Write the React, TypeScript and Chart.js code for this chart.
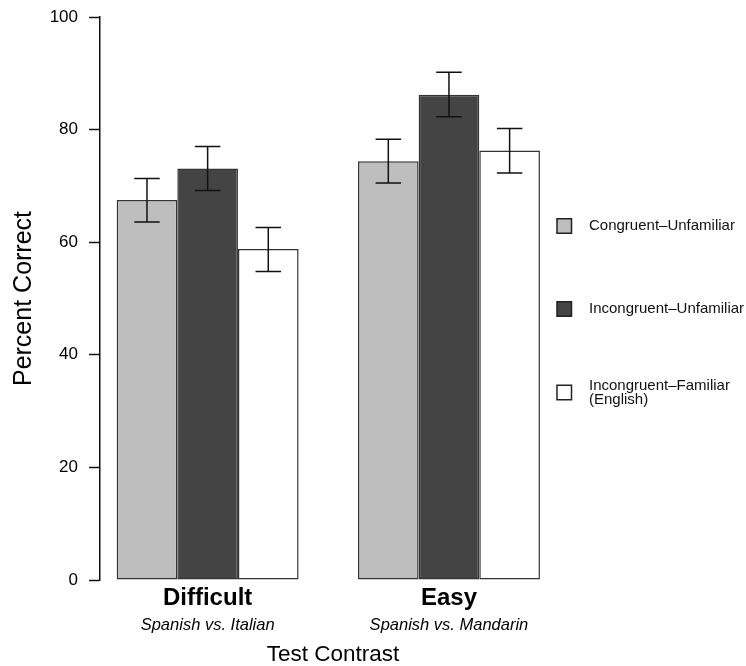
import React, { useEffect, useRef } from "react";
import { Chart, registerables } from "chart.js";

Chart.register(...registerables);

const categories = ["Difficult", "Easy"];
const subtitles = ["Spanish vs. Italian", "Spanish vs. Mandarin"];
const seriesNames = ["Congruent–Unfamiliar", "Incongruent–Unfamiliar", "Incongruent–Familiar (English)"];
const legendLines = [["Congruent–Unfamiliar"], ["Incongruent–Unfamiliar"], ["Incongruent–Familiar", "(English)"]];
const seriesColors = ["#bebebe", "#444444", "#ffffff"];

const congruentUnfamiliar = [67.5, 74.4];
const incongruentUnfamiliar = [73.1, 86.2];
const incongruentFamiliar = [58.8, 76.3];

const congruentUnfamiliarLow = [63.6, 70.5];
const congruentUnfamiliarHigh = [71.3, 78.3];
const incongruentUnfamiliarLow = [69.2, 82.3];
const incongruentUnfamiliarHigh = [77.0, 90.2];
const incongruentFamiliarLow = [54.8, 72.3];
const incongruentFamiliarHigh = [62.6, 80.2];

const yMin = 0;
const yMax = 100;
const yStep = 20;

const FONT = "'Liberation Sans', Arial, Helvetica, sans-serif";

const errorBarPlugin = {
  id: "errorBars",
  afterDatasetsDraw(chart: any) {
    const ctx = chart.ctx;
    const yScale = chart.scales.y;
    chart.data.datasets.forEach((ds: any, i: number) => {
      const meta = chart.getDatasetMeta(i);
      meta.data.forEach((bar: any, j: number) => {
        const x = bar.x;
        const half = bar.width * 0.21;
        const top = yScale.getPixelForValue(ds.errHigh[j]);
        const bottom = yScale.getPixelForValue(ds.errLow[j]);
        ctx.save();
        ctx.strokeStyle = "#111111";
        ctx.lineWidth = 1.5;
        ctx.beginPath();
        ctx.moveTo(x, top);
        ctx.lineTo(x, bottom);
        ctx.moveTo(x - half, top);
        ctx.lineTo(x + half, top);
        ctx.moveTo(x - half, bottom);
        ctx.lineTo(x + half, bottom);
        ctx.stroke();
        ctx.restore();
      });
    });
  },
};

const customLegendPlugin = {
  id: "customLegend",
  afterDraw(chart: any) {
    const ctx = chart.ctx;
    const boxLeft = 557;
    const boxSize = 14.5;
    const textLeft = 589;
    const centers = [226, 309, 392.5];
    const lineGap = 14;
    ctx.save();
    chart.data.datasets.forEach((ds: any, i: number) => {
      const cy = centers[i];
      ctx.fillStyle = ds.backgroundColor;
      ctx.fillRect(boxLeft, cy - boxSize / 2, boxSize, boxSize);
      ctx.strokeStyle = "#222222";
      ctx.lineWidth = 1.5;
      ctx.strokeRect(boxLeft, cy - boxSize / 2, boxSize, boxSize);
      const lines: string[] = ds.legendLines;
      ctx.fillStyle = "#111111";
      ctx.font = `15px ${FONT}`;
      ctx.textBaseline = "middle";
      ctx.textAlign = "left";
      const startY = cy - ((lines.length - 1) * lineGap) / 2;
      lines.forEach((t, k) => ctx.fillText(t, textLeft, startY + k * lineGap));
    });
    ctx.restore();
  },
};

export default function App() {
  const ref = useRef<HTMLCanvasElement>(null);

  useEffect(() => {
    if (!ref.current) return;
    const values = [congruentUnfamiliar, incongruentUnfamiliar, incongruentFamiliar];
    const lows = [congruentUnfamiliarLow, incongruentUnfamiliarLow, incongruentFamiliarLow];
    const highs = [congruentUnfamiliarHigh, incongruentUnfamiliarHigh, incongruentFamiliarHigh];

    const chart = new Chart(ref.current, {
      type: "bar",
      data: {
        datasets: seriesNames.map((name, i) => ({
          label: name,
          data: categories.map((_, j) => ({ x: j, y: values[i][j] })),
          backgroundColor: seriesColors[i],
          borderColor: "#333333",
          borderWidth: 1.5,
          borderSkipped: false,
          categoryPercentage: 0.754,
          barPercentage: 1,
          errLow: lows[i],
          errHigh: highs[i],
          legendLines: legendLines[i],
        })) as any,
      },
      options: {
        responsive: false,
        animation: false,
        events: [],
        layout: { padding: { left: 10, right: 180, top: 17, bottom: 0 } },
        plugins: {
          legend: { display: false },
          tooltip: { enabled: false },
        },
        scales: {
          x: {
            type: "linear",
            position: "bottom",
            offset: false,
            weight: 0,
            min: -0.446,
            max: 1.485,
            grid: { display: false, drawTicks: false, offset: false },
            border: { display: false },
            afterBuildTicks: (scale: any) => {
              scale.ticks = categories.map((_, i) => ({ value: i }));
            },
            afterFit: (scale: any) => {
              scale.height = 31;
            },
            ticks: {
              padding: 4,
              color: "#000000",
              font: { family: FONT, size: 24, weight: "bold" },
              callback: (v: any) => categories[v as number] ?? "",
            },
          },
          x2: {
            type: "linear",
            position: "bottom",
            offset: false,
            weight: 1,
            min: -0.446,
            max: 1.485,
            grid: { display: false, drawTicks: false, offset: false },
            border: { display: false },
            afterBuildTicks: (scale: any) => {
              scale.ticks = subtitles.map((_, i) => ({ value: i }));
            },
            afterFit: (scale: any) => {
              scale.height = 55;
            },
            ticks: {
              padding: 4.4,
              color: "#000000",
              font: { family: FONT, size: 16.5, style: "italic" },
              callback: (v: any) => subtitles[v as number] ?? "",
            },
            title: {
              display: true,
              text: "Test Contrast",
              color: "#000000",
              font: { family: FONT, size: 22.5, lineHeight: 1 },
              padding: { top: 0, bottom: 0 },
            },
          },
          y: {
            type: "linear",
            min: yMin,
            max: yMax,
            afterFit: (scale: any) => {
              scale.width = 90;
              scale.paddingTop = 0;
              scale.paddingBottom = 0;
            },
            grid: {
              display: true,
              drawOnChartArea: false,
              drawTicks: true,
              tickLength: 11,
              tickWidth: 1.5,
              tickColor: "#111111",
            },
            border: { display: true, color: "#111111", width: 1.5 },
            ticks: {
              stepSize: yStep,
              padding: 11,
              color: "#000000",
              font: { family: FONT, size: 17 },
            },
            title: {
              display: true,
              text: "Percent Correct",
              color: "#000000",
              font: { family: FONT, size: 25, lineHeight: 1 },
              padding: { top: 2, bottom: 0 },
            },
          },
        },
      },
      plugins: [errorBarPlugin, customLegendPlugin],
    });
    return () => chart.destroy();
  }, []);

  return (
    <div style={{ position: "absolute", left: 0, top: 0, width: 746, height: 666, background: "#ffffff" }}>
      <canvas ref={ref} width={746} height={666} style={{ display: "block" }} />
    </div>
  );
}
